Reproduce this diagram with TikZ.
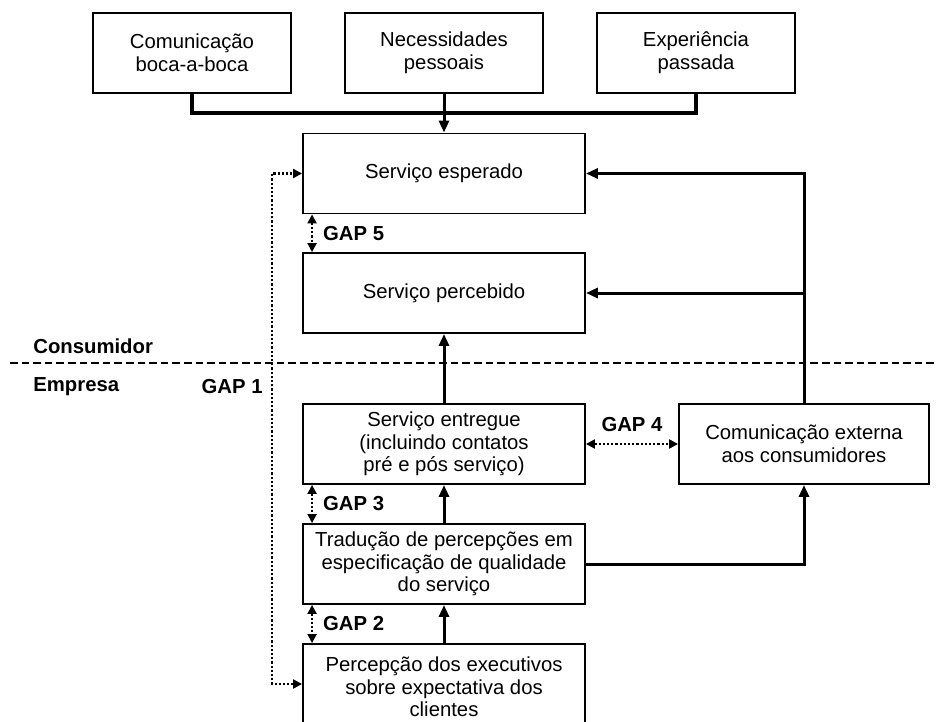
\documentclass[tikz,border=0pt]{standalone}
\usepackage{fontspec}
\setmainfont{Liberation Sans}
\usetikzlibrary{arrows.meta}

\tikzset{
  caixa/.style={shape=rectangle,draw=black,line width=0.95pt,align=center,inner sep=0pt,
    font=\fontsize{10.15}{11.3}\selectfont},
  caixaTopo/.style={caixa,minimum width=99pt,minimum height=40pt},
  caixaCentro/.style={caixa,minimum width=141pt,minimum height=40pt},
  linha/.style={line width=1.6pt},
  seta/.style={line width=1.5pt,-{Triangle[length=6pt,width=5pt]}},
  lacuna/.style={line width=1.1pt,densely dotted,{Triangle[length=4.5pt,width=4.5pt]}-{Triangle[length=4.5pt,width=4.5pt]}},
  divisao/.style={line width=0.75pt,dash pattern=on 3.8pt off 2pt},
  rotulo/.style={inner sep=1pt,font=\fontsize{10.15}{11.3}\selectfont\bfseries}
}

\begin{document}
\begin{tikzpicture}[x=0.5pt,y=-0.5pt]
  \useasboundingbox (0,0) rectangle (938,722);

  \node[caixaTopo] (comunicacaoBocaABoca) at (192,53) {Comunicação\\boca-a-boca};
  \node[caixaTopo] (necessidadesPessoais) at (444,53) {Necessidades\\pessoais};
  \node[caixaTopo] (experienciaPassada) at (696,53) {Experiência\\passada};

  \node[caixaCentro] (servicoEsperado) at (444,173.5) {Serviço esperado};
  \node[caixaCentro] (servicoPercebido) at (444,293) {Serviço percebido};
  \node[caixaCentro] (servicoEntregue) at (444,444) {Serviço entregue\\(incluindo contatos\\pré e pós serviço)};
  \node[caixaCentro] (traducaoDePercepcoes) at (444,564) {Tradução de percepções em\\especificação de qualidade\\do serviço};
  \node[caixaCentro,minimum height=43pt] (percepcaoDosExecutivos) at (444,687) {Percepção dos executivos\\sobre expectativa dos\\clientes};
  \node[caixa,minimum width=125pt,minimum height=40pt] (comunicacaoExterna) at (804,444) {Comunicação externa\\aos consumidores};

  \coordinate (juncaoTopo) at (444,113);
  \coordinate (cantoGap1) at (272,173.5);
  \coordinate (divisaoEsquerda) at (10,363);
  \coordinate (divisaoDireita) at (938,363);

  \node[rotulo,anchor=west] (consumidor) at (31,346) {Consumidor};
  \node[rotulo,anchor=west] (empresa) at (31,387) {Empresa};
  \node[rotulo,anchor=east] (rotuloGap1) at (265,387) {GAP 1};

  \draw[divisao] (divisaoEsquerda) -- (divisaoDireita);

  \draw[linha] (comunicacaoBocaABoca.south) |- (juncaoTopo) -| (experienciaPassada.south);
  \path[seta] (necessidadesPessoais) edge (servicoEsperado);
  \path[seta] (servicoEntregue) edge (servicoPercebido);
  \path[seta] (traducaoDePercepcoes) edge (servicoEntregue);
  \path[seta] (percepcaoDosExecutivos) edge (traducaoDePercepcoes);
  \draw[seta] (comunicacaoExterna.north) |- (servicoEsperado);
  \draw[seta] (comunicacaoExterna.north) |- (servicoPercebido);
  \draw[seta] (traducaoDePercepcoes) -| (comunicacaoExterna);

  % lacunas
  \draw[lacuna] ([xshift=5pt]servicoEsperado.south west) -- ([xshift=5pt]servicoPercebido.north west) node[midway,right=4pt,rotulo] {GAP 5};
  \draw[lacuna] ([xshift=5pt]servicoEntregue.south west) -- ([xshift=5pt]traducaoDePercepcoes.north west) node[midway,right=4pt,rotulo] {GAP 3};
  \draw[lacuna] ([xshift=5pt]traducaoDePercepcoes.south west) -- ([xshift=5pt]percepcaoDosExecutivos.north west) node[midway,right=4pt,rotulo] {GAP 2};
  \draw[lacuna] (servicoEntregue.east) -- (comunicacaoExterna.west) node[midway,above=4.4pt,rotulo] {GAP 4};
  \draw[lacuna] ([yshift=1.5pt]percepcaoDosExecutivos.west) -| (cantoGap1) -- (servicoEsperado.west);
\end{tikzpicture}
\end{document}
